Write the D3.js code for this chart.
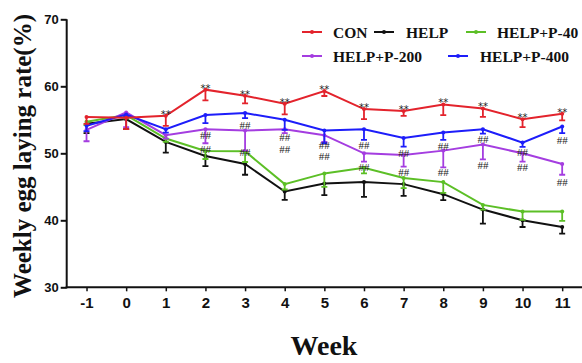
<!DOCTYPE html>
<html>
<head>
<meta charset="utf-8">
<script src="https://cdn.jsdelivr.net/npm/d3@7"></script>
<style>
html,body{margin:0;padding:0;background:#fff;}
svg{display:block;}
</style>
</head>
<body>
<svg id="chart" width="582" height="363"></svg>
<script>
const weeks = [-1,0,1,2,3,4,5,6,7,8,9,10,11];
const seriesNames = ["CON","HELP","HELP+P-40","HELP+P-200","HELP+P-400"];
const seriesColors = ["#e3232c","#111111","#5cbf26","#a43de0","#1d1dfa"];
const conValues  = [55.4,55.3,55.6,59.5,58.6,57.4,59.3,56.6,56.3,57.3,56.7,55.1,55.9];
const conErr     = [1.0,1.7,1.5,1.6,1.15,1.6,0.75,1.5,0.7,1.6,1.25,1.2,1.0];
const helpValues = [54.4,55.1,51.7,49.6,48.4,44.3,45.5,45.7,45.4,43.9,41.6,40.0,39.0];
const helpErr    = [1.4,1.5,1.6,1.5,1.6,1.25,1.75,2.2,1.75,0.9,2.1,1.0,1.0];
const p40Values  = [54.7,55.7,52.2,50.35,50.3,45.4,47.0,47.85,46.3,45.7,42.3,41.3,41.3];
const p40Err     = [0.5,0.5,0.5,1.2,1.6,0.8,2.0,0.85,1.5,1.6,0.7,1.25,1.4];
const p200Values = [53.5,56.1,52.7,53.6,53.4,53.6,52.7,50.0,49.75,50.4,51.3,50.0,48.4];
const p200Err    = [1.7,2.2,0.5,2.1,3.0,0.6,1.0,1.25,1.75,2.5,2.2,1.25,1.6];
const p400Values = [54.1,55.8,53.6,55.7,56.0,55.0,53.4,53.6,52.3,53.1,53.6,51.6,54.0];
const p400Err    = [0.8,0.3,0.5,1.2,0.75,1.5,1.9,1.6,1.3,1.1,0.65,0.65,1.0];
const starWeeks  = [1,2,3,4,5,6,7,8,9,10,11];
const hashWeeks  = [2,3,4,5,6,7,8,9,10,11];
const hashUpper  = [52.73,54.22,52.45,51.2,51.24,50.0,51.13,52.13,50.24,51.99];
const hashLower  = [50.64,50.15,50.7,49.55,48.0,47.25,47.25,48.25,47.9,45.67];
const yTicks = [30,40,50,60,70];
const xLabel = "Week";
const yLabel = "Weekly egg laying rate(%)";

const values = [conValues, helpValues, p40Values, p200Values, p400Values];
const errs = [conErr, helpErr, p40Err, p200Err, p400Err];
const series = seriesNames.map((n,i)=>({name:n,color:seriesColors[i],
  pts:weeks.map((w,j)=>({w, v:values[i][j], e:errs[i][j]}))}));

const svg = d3.select("#chart");
const x = d3.scaleLinear().domain([-1.5,11.5]).range([66.7,582]);
const y = d3.scaleLinear().domain([30,70]).range([287.3,19.3]);

// axes
const yAxis = svg.append("g").attr("transform","translate(66.7,0)")
  .call(d3.axisLeft(y).tickValues(yTicks).tickSize(6).tickPadding(2).tickFormat(d=>String(d)));
yAxis.select(".domain").attr("stroke","#111").attr("stroke-width",2).attr("d","M0,"+y(70)+"V"+(y(30)+1));
yAxis.selectAll(".tick line").attr("stroke","#111").attr("stroke-width",2);
yAxis.selectAll(".tick text").attr("font-family","Liberation Sans, Arial, sans-serif")
  .attr("font-weight","bold").attr("font-size",13).attr("fill","#111");

const xAxis = svg.append("g").attr("transform","translate(0,"+y(30)+")")
  .call(d3.axisBottom(x).tickValues(weeks).tickSize(4).tickPadding(6).tickFormat(d=>String(d)));
xAxis.select(".domain").attr("stroke","#111").attr("stroke-width",2).attr("d","M65.7,0H582");
xAxis.selectAll(".tick line").attr("stroke","#111").attr("stroke-width",1.5);
xAxis.selectAll(".tick text").attr("font-family","Liberation Sans, Arial, sans-serif")
  .attr("font-weight","bold").attr("font-size",15).attr("fill","#111");

// axis titles
svg.append("text").attr("x",324).attr("y",355).attr("text-anchor","middle")
  .attr("font-family","Liberation Serif, Times New Roman, serif").attr("font-weight","bold")
  .attr("font-size",28).attr("fill","#111").text(xLabel);
svg.append("text").attr("transform","translate(31,156) rotate(-90)").attr("text-anchor","middle")
  .attr("font-family","Liberation Serif, Times New Roman, serif").attr("font-weight","bold")
  .attr("font-size",25).attr("fill","#111").text(yLabel);

// series
const line = d3.line().x(d=>x(d.w)).y(d=>y(d.v));
const drawOrder = [1,2,3,4,0];
drawOrder.forEach(i=>{
  const s = series[i];
  const g = svg.append("g");
  g.selectAll(".eb").data(s.pts).enter().append("path")
    .attr("d",d=>`M${x(d.w)},${y(d.v)}V${y(d.v-d.e)}M${x(d.w)-3},${y(d.v-d.e)}H${x(d.w)+3}`)
    .attr("stroke",s.color).attr("stroke-width",1.8).attr("fill","none");
  g.append("path").datum(s.pts).attr("d",line).attr("fill","none")
    .attr("stroke",s.color).attr("stroke-width",2);
  g.selectAll("circle").data(s.pts).enter().append("circle")
    .attr("cx",d=>x(d.w)).attr("cy",d=>y(d.v)).attr("r",2).attr("fill",s.color);
});

// significance marks
const conMap = new Map(weeks.map((w,j)=>[w,conValues[j]]));
svg.append("g").selectAll("text").data(starWeeks).enter().append("text")
  .attr("x",d=>x(d)).attr("y",d=>y(conMap.get(d))+2).attr("text-anchor","middle")
  .attr("font-family","DejaVu Sans, sans-serif").attr("font-size",10).attr("fill","#222")
  .text("**");
const hashG = svg.append("g");
[hashUpper, hashLower].forEach(arr=>{
  hashG.append("g").selectAll("text").data(hashWeeks.map((w,j)=>({w,v:arr[j]}))).enter().append("text")
    .attr("x",d=>x(d.w)).attr("y",d=>y(d.v)+4).attr("text-anchor","middle")
    .attr("font-family","Liberation Serif, Times New Roman, serif").attr("font-size",11).attr("fill","#222")
    .text("##");
});

// legend
const legendPos = [[302,32],[374,32],[466,32],[302,56],[448,56]];
series.forEach((s,i)=>{
  const [lx,ly] = legendPos[i];
  const g = svg.append("g").attr("transform",`translate(${lx},${ly})`);
  g.append("line").attr("x1",0).attr("x2",20).attr("y1",0).attr("y2",0)
    .attr("stroke",s.color).attr("stroke-width",2);
  g.append("circle").attr("cx",10).attr("cy",0).attr("r",2).attr("fill",s.color);
  g.append("text").attr("x",i===4?32:(i===1?32:31)).attr("y",5.5)
    .attr("font-family","Liberation Serif, Times New Roman, serif").attr("font-weight","bold")
    .attr("font-size",15.5).attr("fill","#111").text(s.name);
});
</script>
</body>
</html>
